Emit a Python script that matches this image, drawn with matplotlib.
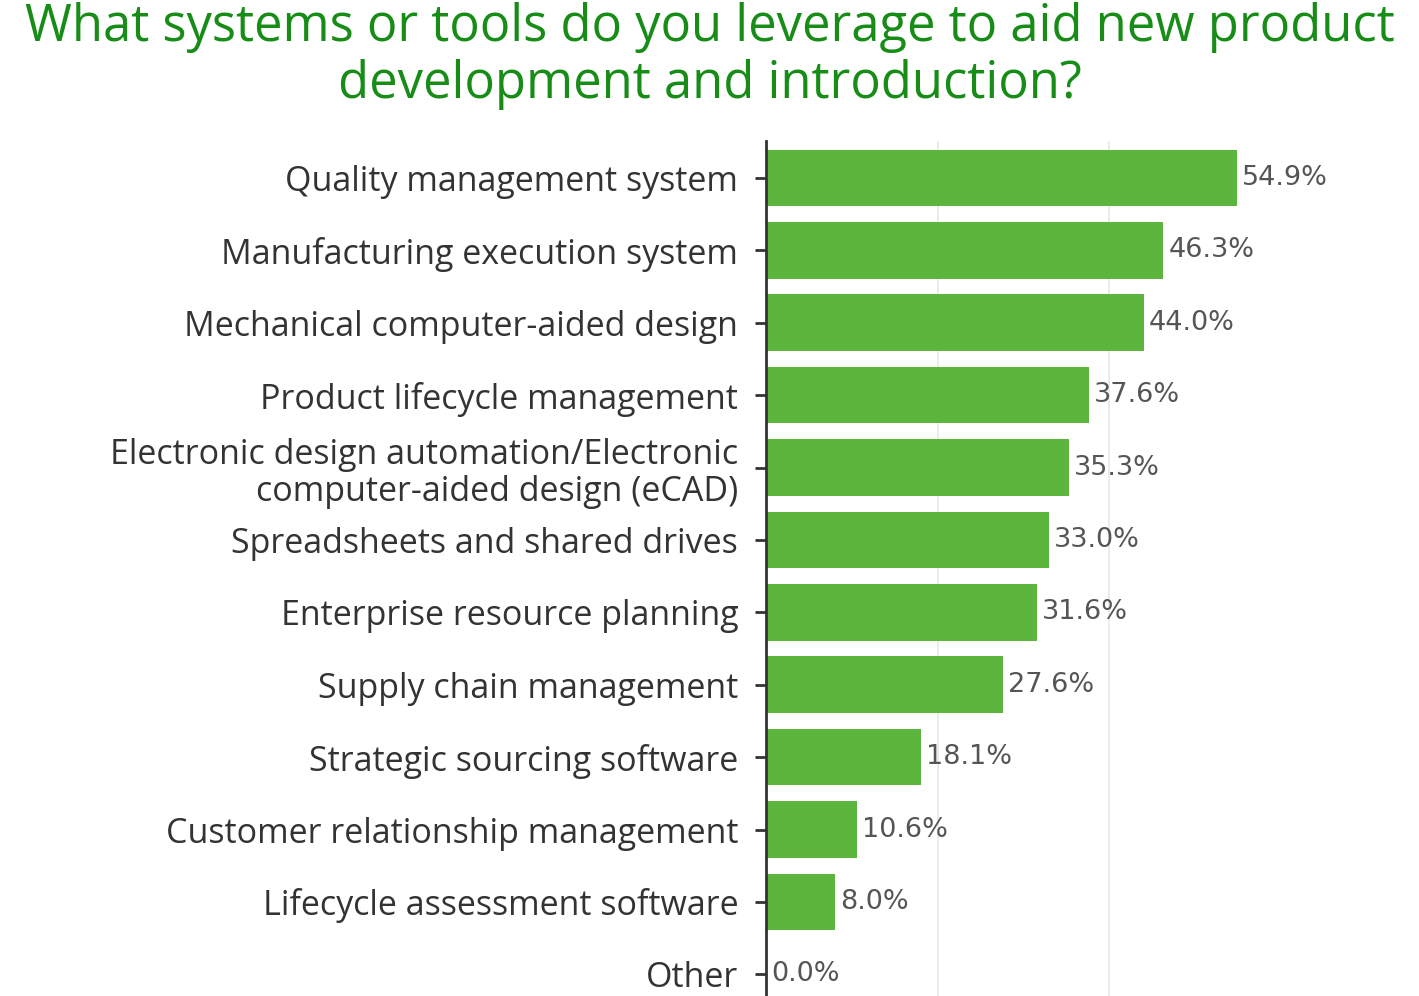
import matplotlib.pyplot as plt

# data
categories = [
    "Quality management system",
    "Manufacturing execution system",
    "Mechanical computer-aided design",
    "Product lifecycle management",
    "Electronic design automation/Electronic\ncomputer-aided design (eCAD)",
    "Spreadsheets and shared drives",
    "Enterprise resource planning",
    "Supply chain management",
    "Strategic sourcing software",
    "Customer relationship management",
    "Lifecycle assessment software",
    "Other",
]
values = [54.9, 46.3, 44.0, 37.6, 35.3, 33.0, 31.6, 27.6, 18.1, 10.6, 8.0, 0.0]
grid_ticks = [20, 40]

W, H = 1419, 996
fig = plt.figure(figsize=(W / 100, H / 100), dpi=100)

# axes position in pixels: left spine at x=766, top at y=141, runs off bottom
step = 72.4
top_px = 141
ylim_bottom, ylim_top = 12.0, -0.51
ax_h = (ylim_bottom - ylim_top) * step
left = 766 / W
right_px = 766 + 58 * 8.58
ax = fig.add_axes([left, 1 - (top_px + ax_h) / H, (right_px - 766) / W, ax_h / H])

pos = list(range(len(categories)))
ax.barh(pos, values, height=0.78, color="#5cb53c", zorder=2)
ax.set_ylim(ylim_bottom, ylim_top)
ax.set_xlim(0, 58)

ax.set_yticks(pos)
ax.set_yticklabels(categories, fontsize=24.5, color="#333333", family="Open Sans",
                   linespacing=1.15)
ax.tick_params(axis="y", length=8, width=2, color="#333333", pad=12)
ax.set_xticks(grid_ticks)
ax.tick_params(axis="x", length=0, labelbottom=False)
ax.grid(axis="x", color="#e8e8e8", linewidth=1.2, zorder=0)

for s in ["top", "right", "bottom"]:
    ax.spines[s].set_visible(False)
ax.spines["left"].set_color("#333333")
ax.spines["left"].set_linewidth(2)
ax.spines["left"].set_zorder(3)

for p, v in zip(pos, values):
    ax.text(v + 0.6, p, f"{v:.1f}%", va="center", ha="left", fontsize=19.5,
            color="#555555", clip_on=False)

fig.text(0.5, 1 - 56 / H,
         "What systems or tools do you leverage to aid new product\ndevelopment and introduction?",
         ha="center", va="center", fontsize=36.5, color="#178c17", family="Open Sans",
         linespacing=1.13)

fig.savefig("out.png", dpi=100)
